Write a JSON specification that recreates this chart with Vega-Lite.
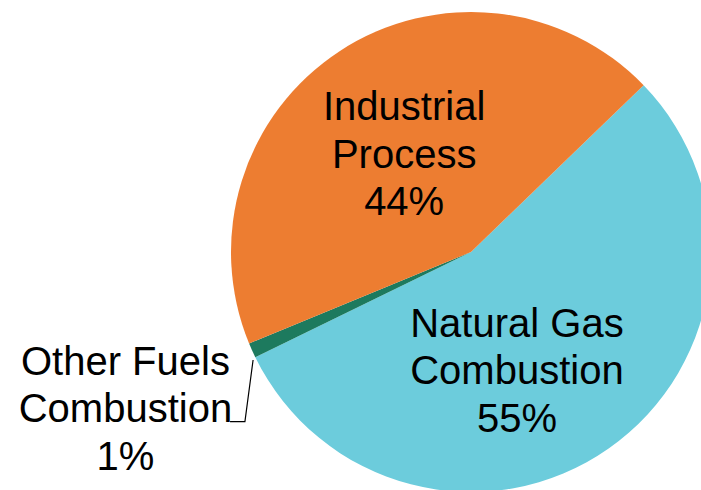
{
  "$schema": "https://vega.github.io/schema/vega-lite/v6.json",
  "width": 701,
  "height": 490,
  "autosize": "none",
  "padding": 0,
  "background": "white",
  "config": {"view": {"stroke": null}},
  "datasets": {
    "slices": [
      {"category": "Natural Gas Combustion", "rank": 1, "value": 55, "label": "Natural Gas\nCombustion\n55%", "labelAt": 31.4, "labelR": 0.535},
      {"category": "Other Fuels Combustion", "rank": 2, "value": 1, "label": "Other Fuels\nCombustion\n1%", "labelAt": 55.4, "labelR": 1.583},
      {"category": "Industrial Process", "rank": 3, "value": 44, "label": "Industrial\nProcess\n44%", "labelAt": 77.6, "labelR": 0.49}
    ],
    "leader": [
      {"px": -0.908, "py": 0.45, "k": 1},
      {"px": -0.942, "py": 0.707, "k": 2},
      {"px": -1.004, "py": 0.707, "k": 3}
    ]
  },
  "layer": [
    {
      "data": {"name": "slices"},
      "mark": {"type": "arc", "outerRadius": 240},
      "encoding": {
        "x": {"value": 471},
        "y": {"value": 252},
        "theta": {"field": "value", "type": "quantitative", "stack": true, "scale": {"domain": [0, 100], "range": [0.8029, 7.0861]}},
        "order": {"field": "rank", "type": "quantitative"},
        "color": {
          "field": "category", "type": "nominal", "legend": null,
          "scale": {
            "domain": ["Natural Gas Combustion", "Other Fuels Combustion", "Industrial Process"],
            "range": ["#6CCCDC", "#1D7A5E", "#ED7D31"]
          }
        }
      }
    },
    {
      "data": {"name": "slices"},
      "mark": {"type": "text", "font": "Liberation Sans", "fontSize": 40, "lineHeight": 47.5, "lineBreak": "\n", "align": "center", "baseline": "middle", "dy": -47, "color": "black"},
      "encoding": {
        "x": {"value": 471},
        "y": {"value": 252},
        "theta": {"field": "labelAt", "type": "quantitative", "stack": null, "scale": {"domain": [0, 100], "range": [0.8029, 7.0861]}},
        "radius": {"field": "labelR", "type": "quantitative", "scale": {"type": "linear", "domain": [0, 1], "range": [0, 240], "zero": true}},
        "text": {"field": "label", "type": "nominal"}
      }
    },
    {
      "data": {"name": "leader"},
      "mark": {"type": "line", "color": "black", "strokeWidth": 1.2},
      "encoding": {
        "x": {"field": "px", "type": "quantitative", "axis": null, "scale": {"domain": [-1.9625, 0.9583], "range": [0, 701], "zero": false, "nice": false}},
        "y": {"field": "py", "type": "quantitative", "axis": null, "scale": {"domain": [-1.05, 0.99167], "range": [0, 490], "zero": false, "nice": false}},
        "order": {"field": "k", "type": "quantitative"}
      }
    }
  ]
}
